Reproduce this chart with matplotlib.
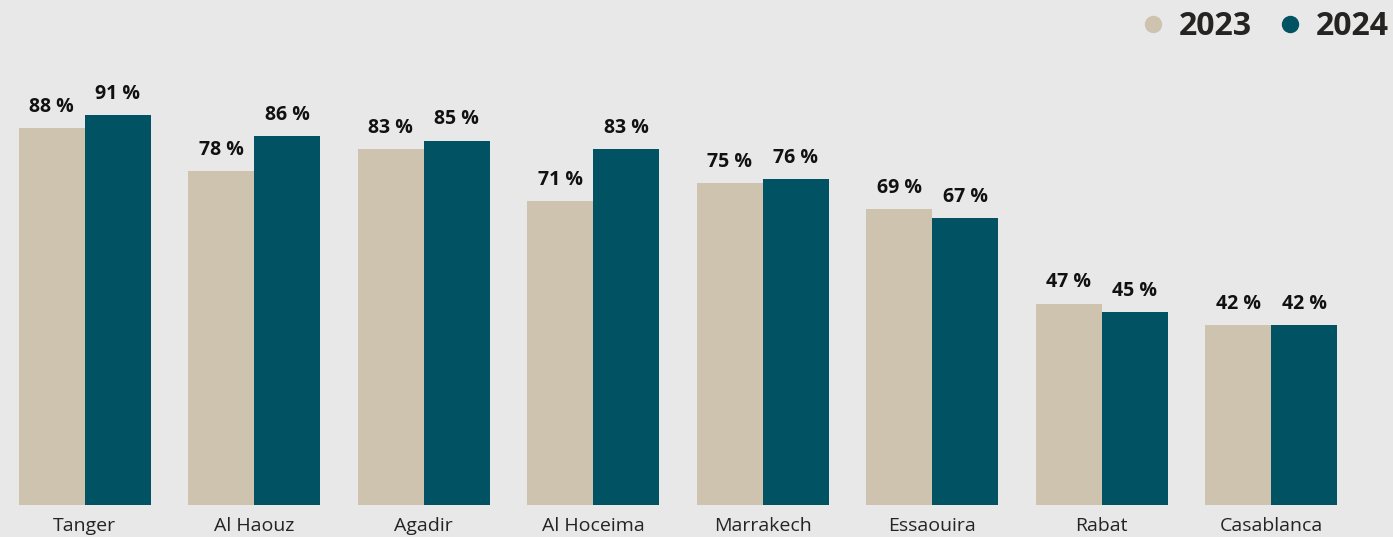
import numpy as np
import matplotlib.pyplot as plt
from matplotlib.lines import Line2D

# Données
villes = ['Tanger', 'Al Haouz', 'Agadir', 'Al Hoceima', 'Marrakech', 'Essaouira', 'Rabat', 'Casablanca']
val_2023 = [88, 78, 83, 71, 75, 69, 47, 42]
val_2024 = [91, 86, 85, 83, 76, 67, 45, 42]

c2023 = '#CDC3AF'
c2024 = '#015262'
fond = '#E8E8E8'
texte = '#252423'

plt.rcParams['font.family'] = ['Open Sans', 'DejaVu Sans']

fig = plt.figure(figsize=(13.93, 5.37), dpi=100, facecolor=fond)
ax = fig.add_axes([0.0, 0.0596, 0.9734, 0.9404])
ax.set_facecolor(fond)

x = np.arange(len(villes))
w = 0.389
b1 = ax.bar(x - w / 2, val_2023, w, color=c2023)
b2 = ax.bar(x + w / 2, val_2024, w, color=c2024)

# étiquettes de valeurs
for bars in (b1, b2):
    for b in bars:
        ax.annotate(f'{int(b.get_height())} %', (b.get_x() + b.get_width() / 2, b.get_height()),
                    xytext=(0, 8), textcoords='offset points', ha='center', va='bottom',
                    fontsize=14, fontweight='bold', color='#111111')

ax.set_xlim(-0.5, len(villes) - 0.5)
ax.set_ylim(0, 117.8)
ax.set_xticks(x)
ax.set_xticklabels(villes, fontsize=14, color=texte)
ax.tick_params(axis='x', length=0, pad=9)
ax.set_yticks([])
for s in ax.spines.values():
    s.set_visible(False)

handles = [Line2D([], [], marker='o', linestyle='', color=c2023, markersize=11.5),
           Line2D([], [], marker='o', linestyle='', color=c2024, markersize=11.5)]
leg = fig.legend(handles, ['2023', '2024'], loc='upper right', bbox_to_anchor=(1.006, 1.005),
                 borderaxespad=0, ncol=2, frameon=False, handlelength=0.8,
                 handletextpad=0.4, columnspacing=0.8,
                 prop={'size': 23, 'weight': 'bold'})
for t in leg.get_texts():
    t.set_color(texte)

fig.savefig('out.png', dpi=100, facecolor=fond)
